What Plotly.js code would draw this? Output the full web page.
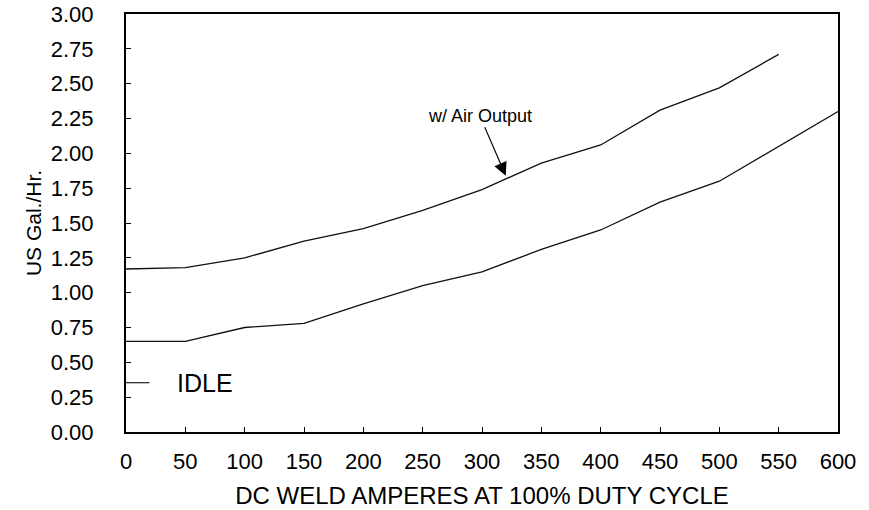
<!DOCTYPE html>
<html>
<head>
<meta charset="utf-8">
<script src="https://cdn.plot.ly/plotly-3.0.1.min.js"></script>
<style>html,body{margin:0;padding:0;background:#fff;}#chart{width:869px;height:510px;}</style>
</head>
<body>
<div id="chart"></div>
<script>
// Data
const amps = [0, 50, 100, 150, 200, 250, 300, 350, 400, 450, 500, 550, 600];
const airOutput = [1.17, 1.18, 1.25, 1.37, 1.46, 1.59, 1.74, 1.93, 2.06, 2.31, 2.47, 2.71];
const idle = [0.65, 0.65, 0.75, 0.78, 0.92, 1.05, 1.15, 1.31, 1.45, 1.65, 1.80, 2.05, 2.30];
const xTicks = [0, 50, 100, 150, 200, 250, 300, 350, 400, 450, 500, 550, 600];
const yTicks = [0, 0.25, 0.5, 0.75, 1.0, 1.25, 1.5, 1.75, 2.0, 2.25, 2.5, 2.75, 3.0];
const yTickText = yTicks.map(v => v.toFixed(2));

const FONT = 'Liberation Sans, Arial, Helvetica, sans-serif';

const traces = [
  {
    x: amps.slice(0, airOutput.length), y: airOutput, type: 'scatter', mode: 'lines',
    name: 'w/ Air Output', line: {color: '#111', width: 1.3}, showlegend: false
  },
  {
    x: amps, y: idle, type: 'scatter', mode: 'lines',
    name: 'IDLE', line: {color: '#111', width: 1.3}, showlegend: false
  }
];

const layout = {
  width: 869, height: 510,
  margin: {l: 126, r: 31, t: 14, b: 78},
  paper_bgcolor: '#fff', plot_bgcolor: '#fff',
  showlegend: false,
  font: {family: FONT, color: '#000', size: 21},
  xaxis: {
    range: [0, 600], tickmode: 'array', tickvals: xTicks, ticktext: xTicks.map(String),
    ticks: 'inside', ticklen: 5, tickwidth: 1, tickcolor: '#000',
    showgrid: false, zeroline: false, showline: true, linecolor: '#000', linewidth: 2, mirror: true,
    ticklabelstandoff: 9,
    tickfont: {family: FONT, size: 22, color: '#000'},
    title: {text: 'DC WELD AMPERES AT 100% DUTY CYCLE', font: {family: FONT, size: 24, color: '#000'}, standoff: 14}
  },
  yaxis: {
    range: [0, 3], tickmode: 'array', tickvals: yTicks, ticktext: yTickText,
    ticks: 'inside', ticklen: 5, tickwidth: 1, tickcolor: '#000',
    showgrid: false, zeroline: false, showline: true, linecolor: '#000', linewidth: 2, mirror: true,
    ticklabelstandoff: 26,
    tickfont: {family: FONT, size: 22, color: '#000'},
    title: {text: 'US Gal./Hr.', font: {family: FONT, size: 21, color: '#000'}, standoff: 3}
  },
  shapes: [
    {type: 'line', xref: 'paper', yref: 'y', x0: 0, x1: 0.033, y0: 0.354, y1: 0.354,
     line: {color: '#333', width: 1.3}}
  ],
  annotations: [
    {xref: 'paper', yref: 'y', x: 0.069, y: 0.354, xanchor: 'left', yanchor: 'middle',
     text: 'IDLE', showarrow: false, font: {family: FONT, size: 25, color: '#000'}},
    {x: 320, y: 1.84, xref: 'x', yref: 'y', text: 'w/ Air Output',
     showarrow: true, ax: -26, ay: -60, arrowhead: 2, arrowsize: 2.2, arrowwidth: 1.2, arrowcolor: '#000',
     font: {family: FONT, size: 18, color: '#000'}}
  ]
};

Plotly.newPlot('chart', traces, layout, {displayModeBar: false, staticPlot: true});
</script>
</body>
</html>
